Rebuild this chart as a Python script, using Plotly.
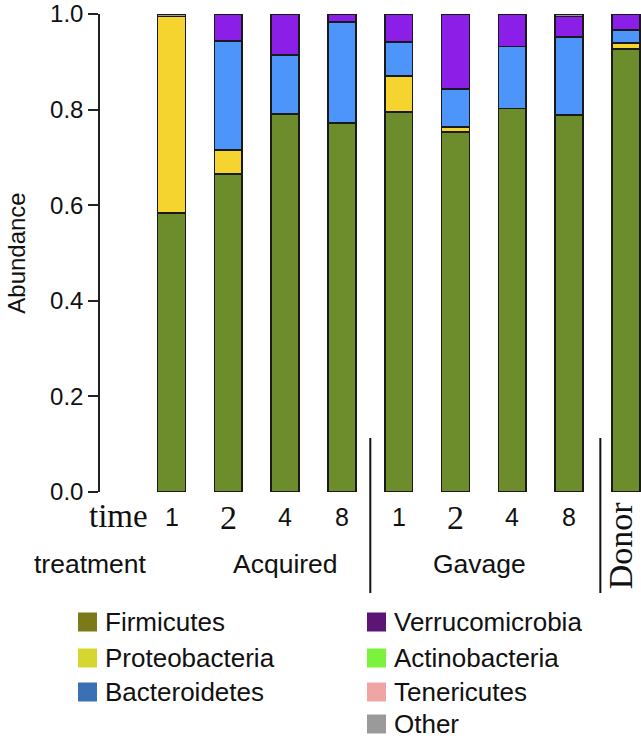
import plotly.graph_objects as go

# samples along the x axis
time_labels = ["1", "2", "4", "8", "1", "2", "4", "8", ""]
treatments = ["Acquired", "Gavage", "Donor"]

# relative abundance per phylum, one value per sample (bottom -> top)
firmicutes      = [0.584, 0.665, 0.791, 0.772, 0.795, 0.753, 0.802, 0.789, 0.927]
proteobacteria  = [0.411, 0.050, 0.000, 0.000, 0.075, 0.011, 0.000, 0.000, 0.012]
bacteroidetes   = [0.000, 0.228, 0.123, 0.211, 0.072, 0.079, 0.130, 0.163, 0.027]
verrucomicrobia = [0.000, 0.057, 0.086, 0.017, 0.058, 0.157, 0.068, 0.043, 0.034]
actinobacteria  = [0.0] * 9
tenericutes     = [0.0] * 9
other           = [0.005, 0.0, 0.0, 0.0, 0.0, 0.0, 0.0, 0.005, 0.0]

phyla = ["Firmicutes", "Proteobacteria", "Bacteroidetes", "Verrucomicrobia",
         "Actinobacteria", "Tenericutes", "Other"]
values = [firmicutes, proteobacteria, bacteroidetes, verrucomicrobia,
          actinobacteria, tenericutes, other]
bar_colors = ["#6d8c2b", "#f5d430", "#4d94fb", "#8b1fe8", "#7cf23c", "#f0a5a5", "#9a9a9a"]
legend_colors = ["#7a7a1a", "#d6d630", "#3b6fb6", "#5c1575", "#7cf23c", "#f0a5a5", "#9a9a9a"]

SANS = "Liberation Sans, Arial, sans-serif"
SERIF = "Liberation Serif, Times New Roman, serif"

xs = list(range(len(time_labels)))

fig = go.Figure()
for name, vals, col in zip(phyla, values, bar_colors):
    if sum(vals) == 0:
        continue
    fig.add_trace(go.Bar(
        x=xs, y=vals, name=name, showlegend=False,
        marker=dict(color=col, line=dict(color="#1a1a1a", width=1.6)),
    ))

# convert pixel rows to paper y (plot area: y=0 at 492px, y=1 at 14px)
def py(pix):
    return (492 - pix) / 478

def label(x, y, text, font, xref="x", angle=0):
    return dict(x=x, y=y, xref=xref, yref="paper", text=text, textangle=angle,
                xanchor="center", yanchor="middle", showarrow=False, font=font)

annotations = []
# time row
annotations.append(label(-0.94, py(516), "time", dict(family=SERIF, size=33, color="#111")))
for i, lab in enumerate(time_labels):
    if not lab:
        continue
    fnt = dict(family=SERIF, size=34, color="#111") if lab == "2" else dict(family=SANS, size=25, color="#111")
    annotations.append(label(i, py(517), lab, fnt))
# treatment row
tfont = dict(family=SANS, size=26.5, color="#111")
annotations.append(label(-0.017, py(564), "treatment", tfont, xref="paper"))
annotations.append(label(2.0, py(564), treatments[0], tfont))
annotations.append(label(5.43, py(564), treatments[1], tfont))
annotations.append(label(7.9, py(545), treatments[2], dict(family=SERIF, size=34, color="#111"), angle=-90))

shapes = []
for xv in [3.5, 7.55]:
    shapes.append(dict(type="line", xref="x", yref="paper", x0=xv, x1=xv,
                       y0=py(438), y1=py(593), line=dict(color="#111", width=2)))

# legend drawn by hand (two columns)
def px(pix):
    return (pix - 100) / 541

rows = [622, 658, 692, 724]
for k, (name, col) in enumerate(zip(phyla, legend_colors)):
    if k < 3:
        x0, r = 78, rows[k]
    else:
        x0, r = 367, rows[k - 3]
    shapes.append(dict(type="rect", xref="paper", yref="paper",
                       x0=px(x0), x1=px(x0 + 19), y0=py(r - 9.5), y1=py(r + 9.5),
                       fillcolor=col, line=dict(width=0)))
    annotations.append(dict(x=px(x0 + 25), y=py(r), xref="paper", yref="paper",
                            xanchor="left", yanchor="middle", text=name, showarrow=False,
                            font=dict(family=SANS, size=26, color="#111")))

fig.update_layout(
    width=641, height=739,
    margin=dict(l=100, r=0, t=14, b=247),
    barmode="stack", bargap=0.51,
    plot_bgcolor="white", paper_bgcolor="white",
    annotations=annotations, shapes=shapes,
    showlegend=False,
)
fig.update_xaxes(range=[-1.259, 8.266], showticklabels=False, showgrid=False,
                 zeroline=False, showline=False, ticks="")
fig.update_yaxes(range=[0, 1], dtick=0.2, tickformat=".1f", showgrid=False, zeroline=False,
                 showline=True, linecolor="#222", linewidth=1.5,
                 ticks="outside", ticklen=10, tickwidth=1.5, tickcolor="#222",
                 tickfont=dict(family=SANS, size=24, color="#111"),
                 title=dict(text="Abundance", font=dict(family=SANS, size=24, color="#111"), standoff=18))

# remove the default page margin so the figure sits at the window's corner
fig.write_html("out.html", config={"displayModeBar": False},
               post_script="document.body.style.margin='0';")
